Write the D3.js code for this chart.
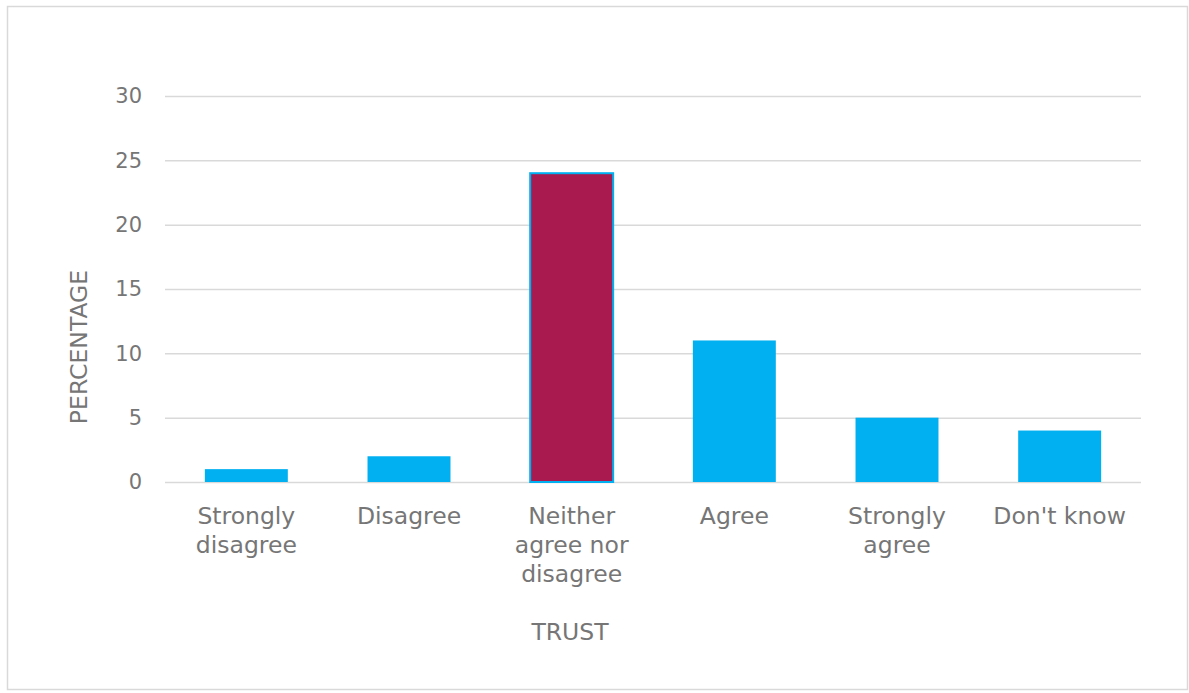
<!DOCTYPE html>
<html>
<head>
<meta charset="utf-8">
<script src="https://cdn.jsdelivr.net/npm/d3@7"></script>
<style>
  html, body { margin: 0; padding: 0; background: #fff; }
  svg { display: block; }
  text { font-family: "DejaVu Sans", Verdana, sans-serif; fill: #767676; }
</style>
</head>
<body>
<svg id="chart" width="1189" height="693"></svg>
<script>
// Survey responses on trust, percentage of respondents
const categories = [["Strongly", "disagree"], ["Disagree"], ["Neither", "agree nor", "disagree"], ["Agree"], ["Strongly", "agree"], ["Don't know"]];
const values = [1, 2, 24, 11, 5, 4];
const highlighted = [false, false, true, false, false, false];
const yTicks = [0, 5, 10, 15, 20, 25, 30];
const xTitle = "TRUST";
const yTitle = "PERCENTAGE";

const svg = d3.select("#chart");
const plot = { left: 165, right: 1141, top: 96, bottom: 482 };
const textColor = "#767676";

// chart frame
svg.append("rect")
  .attr("x", 7.5).attr("y", 6.5)
  .attr("width", 1180).attr("height", 683)
  .attr("fill", "#fff").attr("stroke", "#d9d9d9").attr("stroke-width", 1.5);

const keys = categories.map((c, i) => i);
const x = d3.scaleBand().domain(keys).range([plot.left, plot.right]).paddingInner(0.49).paddingOuter(0.245);
const y = d3.scaleLinear().domain([0, 30]).range([plot.bottom, plot.top]);

// horizontal gridlines and value labels
const yAxis = d3.axisLeft(y).tickValues(yTicks).tickSize(-(plot.right - plot.left)).tickPadding(23);
const gy = svg.append("g").attr("transform", `translate(${plot.left},0)`).call(yAxis);
gy.select(".domain").remove();
gy.selectAll(".tick line").attr("stroke", "#d9d9d9").attr("stroke-width", 1.5);
gy.selectAll(".tick text").attr("font-size", 21).attr("fill", textColor).attr("font-family", "DejaVu Sans, Verdana, sans-serif");

// bars
svg.append("g").selectAll("rect")
  .data(values)
  .join("rect")
  .attr("x", (d, i) => x(i))
  .attr("y", d => y(d))
  .attr("width", x.bandwidth())
  .attr("height", d => y(0) - y(d))
  .attr("fill", (d, i) => highlighted[i] ? "#A91B4F" : "#00B0F0")
  .attr("stroke", (d, i) => highlighted[i] ? "#00B0F0" : "none")
  .attr("stroke-width", 2);

// category labels
const xAxis = d3.axisBottom(x).tickSize(0).tickFormat(() => "");
const gx = svg.append("g").attr("transform", `translate(0,${plot.bottom})`).call(xAxis);
gx.select(".domain").remove();
gx.selectAll(".tick text").remove();
gx.selectAll(".tick").each(function(i) {
  const t = d3.select(this).append("text")
    .attr("text-anchor", "middle")
    .attr("font-size", 23.5)
    .attr("fill", textColor);
  categories[i].forEach((line, k) => {
    t.append("tspan").attr("x", 0).attr("y", 42 + k * 29).text(line);
  });
});

// axis titles
svg.append("text")
  .attr("x", 570)
  .attr("y", 640)
  .attr("text-anchor", "middle")
  .attr("font-size", 23.5)
  .text(xTitle);

svg.append("text")
  .attr("transform", `translate(87,347) rotate(-90)`)
  .attr("text-anchor", "middle")
  .attr("font-size", 23.5)
  .text(yTitle);
</script>
</body>
</html>
